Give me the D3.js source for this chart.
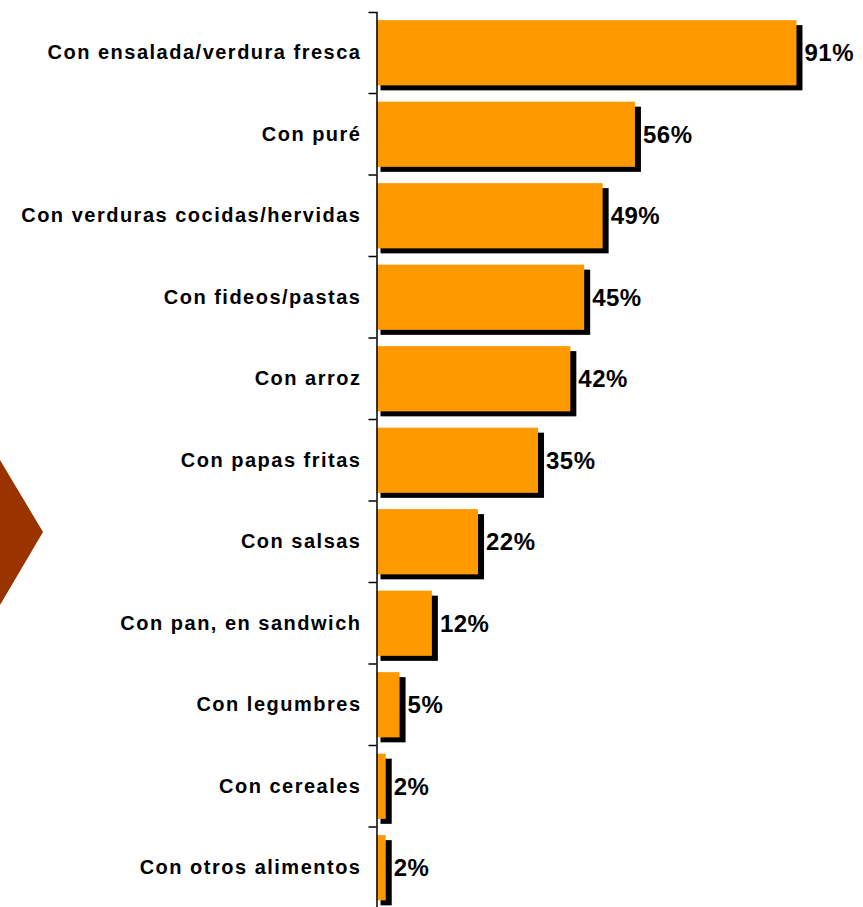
<!DOCTYPE html>
<html>
<head>
<meta charset="utf-8">
<script src="https://cdn.jsdelivr.net/npm/d3@7"></script>
<style>
  body { margin: 0; background: #fff; }
  svg { display: block; font-family: Arial, "Liberation Sans", sans-serif; }
</style>
</head>
<body>
<svg width="863" height="907"></svg>
<script>
var categories = [
  "Con ensalada/verdura fresca",
  "Con puré",
  "Con verduras cocidas/hervidas",
  "Con fideos/pastas",
  "Con arroz",
  "Con papas fritas",
  "Con salsas",
  "Con pan, en sandwich",
  "Con legumbres",
  "Con cereales",
  "Con otros alimentos"
];
var values = [91, 56, 49, 45, 42, 35, 22, 12, 5, 2, 2];

var data = categories.map(function(c, i) {
  return { name: c, value: values[i] };
});

var svg = d3.select("svg");

// decorative arrow on the left edge
svg.append("path")
  .attr("d", "M0,460 L43,532 L0,605 Z")
  .attr("fill", "#993300");

var x0 = 376.5;
var x = d3.scaleLinear().domain([0, 100]).range([x0, x0 + 461.5]);
var y = d3.scaleBand()
  .domain(categories)
  .range([12, 908.5])
  .paddingInner(0.2)
  .paddingOuter(0.1);

var g = svg.append("g");

// shadows
g.selectAll(".shadow")
  .data(data)
  .enter().append("rect")
  .attr("class", "shadow")
  .attr("x", x(0) + 4)
  .attr("y", function(d) { return y(d.name) + 5; })
  .attr("width", function(d) { return x(d.value) - x(0) + 2; })
  .attr("height", y.bandwidth())
  .attr("fill", "#000");

g.selectAll(".bar")
  .data(data)
  .enter().append("rect")
  .attr("class", "bar")
  .attr("x", x(0))
  .attr("y", function(d) { return y(d.name); })
  .attr("width", function(d) { return x(d.value) - x(0); })
  .attr("height", y.bandwidth())
  .attr("fill", "#FF9900");

// value labels
g.selectAll(".val")
  .data(data)
  .enter().append("text")
  .attr("class", "val")
  .attr("x", function(d) { return x(d.value) + 8; })
  .attr("y", function(d) { return y(d.name) + y.bandwidth() / 2; })
  .attr("dy", "0.36em")
  .attr("font-size", "24px")
  .attr("font-weight", "bold")
  .attr("letter-spacing", "0.5px")
  .attr("fill", "#000")
  .text(function(d) { return d.value + "%"; });

// axis
var axis = g.append("g")
  .attr("transform", "translate(" + x0 + ",0)")
  .call(d3.axisLeft(y).tickSize(0).tickSizeOuter(8).tickPadding(15));

axis.select(".domain").attr("stroke", "#000").attr("stroke-width", 1.5);
axis.selectAll(".tick text")
  .attr("font-size", "20px")
  .attr("font-weight", "bold")
  .attr("letter-spacing", "1.5px")
  .attr("fill", "#000");

// ticks between categories
var step = y.step();
var bounds = categories.map(function(c) { return y(c) - step * y.paddingInner() / 2; });
axis.selectAll(".sep")
  .data(bounds.slice(1))
  .enter().append("line")
  .attr("class", "sep")
  .attr("x1", -8)
  .attr("x2", 0)
  .attr("y1", function(d) { return d; })
  .attr("y2", function(d) { return d; })
  .attr("stroke", "#000")
  .attr("stroke-width", 1.5);
</script>
</body>
</html>
